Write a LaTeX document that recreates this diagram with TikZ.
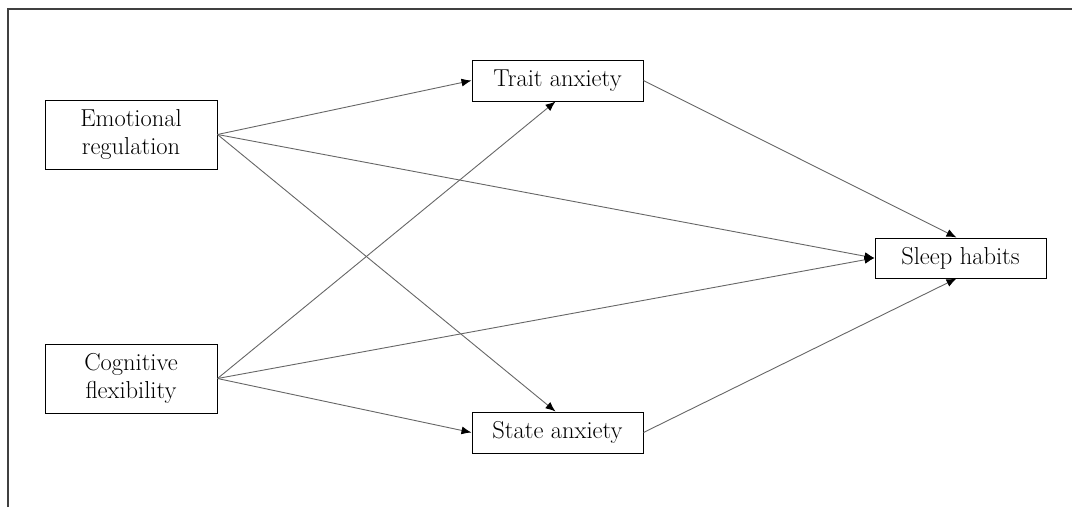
\documentclass[tikz,border=0pt]{standalone}
\usetikzlibrary{arrows.meta}
\begin{document}
\begin{tikzpicture}[x=1pt,y=-1pt,
  box/.style={draw=black,line width=1pt,fill=white,inner sep=0pt,align=center,
    font=\fontsize{24.5}{28}\selectfont},
  conn/.style={draw=black!60,line width=0.9pt,-{Latex[length=10pt,width=8pt,black]}}]
\useasboundingbox (0,0) rectangle (1072,507);
\draw[black!75,line width=1.3pt] (8,507) coordinate (fb) -- (8,9) coordinate (fc) -- (1072,9) coordinate (fr);
\node[box,minimum width=172pt,minimum height=69pt] (er) at (131,134.5) {Emotional\\regulation};
\node[box,minimum width=172pt,minimum height=69pt] (cf) at (131,378.5) {Cognitive\\flexibility};
\node[box,minimum width=171pt,minimum height=41pt] (ta) at (557.5,80.5) {Trait anxiety};
\node[box,minimum width=171pt,minimum height=41pt] (sa) at (557.5,432.5) {State anxiety};
\node[box,minimum width=171pt,minimum height=40pt] (sh) at (960.5,258) {Sleep habits};
\draw[conn] (er.east) -- (ta.west);
\draw[conn] (er.east) -- (sh.west);
\draw[conn] (er.east) -- ([xshift=-2pt]sa.north);
\draw[conn] (cf.east) -- ([xshift=-2pt]ta.south);
\draw[conn] (cf.east) -- (sh.west);
\draw[conn] (cf.east) -- (sa.west);
\draw[conn] (ta.east) -- ([xshift=-4pt]sh.north);
\draw[conn] (sa.east) -- ([xshift=-4pt]sh.south);
\end{tikzpicture}
\end{document}
